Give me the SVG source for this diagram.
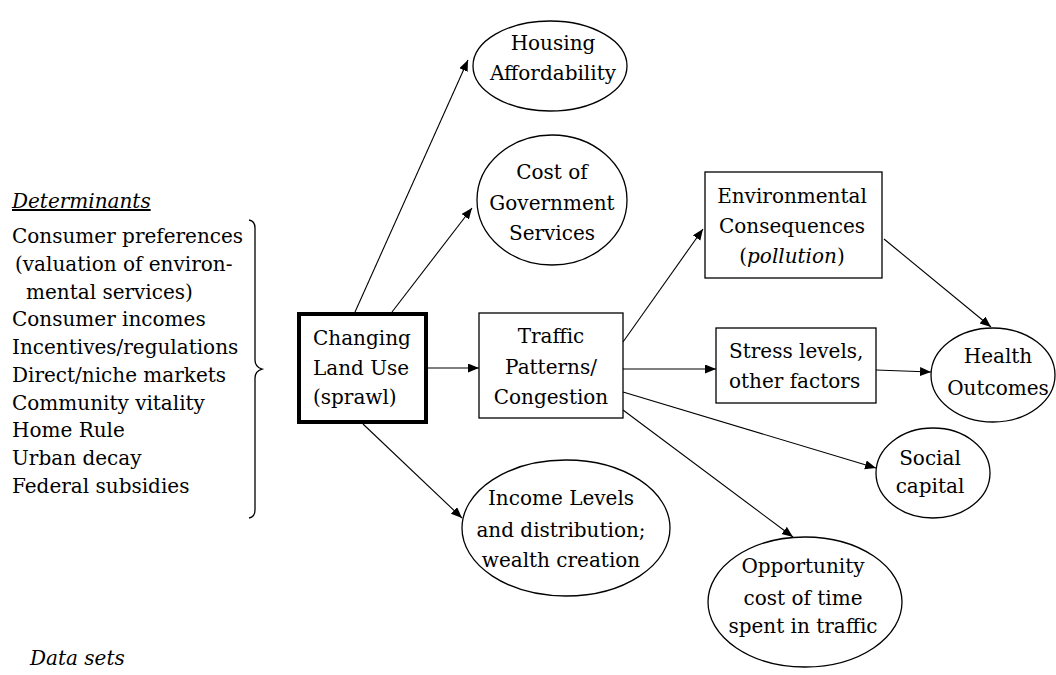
<svg xmlns="http://www.w3.org/2000/svg" width="1056" height="675" viewBox="0 0 1056 675">
<style>
text{font-family:"DejaVu Serif","Liberation Serif",serif;font-size:20px;fill:#000}
.c{text-anchor:middle}
.it{font-style:italic}
.shape{fill:#fff;stroke:#000;stroke-width:1.3}
.thick{fill:#fff;stroke:#000;stroke-width:4}
.edge{stroke:#000;stroke-width:1.1;fill:none;marker-end:url(#ah)}
</style>
<defs>
<marker id="ah" markerUnits="userSpaceOnUse" markerWidth="12" markerHeight="10" refX="11" refY="4.5" orient="auto">
<path d="M0,0 L11,4.5 L0,9 Z" fill="#000"/>
</marker>
</defs>
<rect width="1056" height="675" fill="#fff"/>

<g id="determinants">
<text x="12" y="208" class="it" text-decoration="underline">Determinants</text>
<text x="12" y="243">Consumer preferences</text>
<text x="15" y="271">(valuation of environ-</text>
<text x="26" y="299">mental services)</text>
<text x="12" y="326">Consumer incomes</text>
<text x="12" y="354">Incentives/regulations</text>
<text x="12" y="382">Direct/niche markets</text>
<text x="12" y="410">Community vitality</text>
<text x="12" y="437">Home Rule</text>
<text x="12" y="465">Urban decay</text>
<text x="12" y="493">Federal subsidies</text>
<path d="M249,220 Q255,221 255,228 L255,360 Q255,367 262,369 Q255,371 255,378 L255,510 Q255,517 249,518" fill="none" stroke="#000" stroke-width="1.3"/>
</g>

<g id="datasets">
<text x="30" y="665" class="it">Data sets</text>
</g>

<g id="connectors">
<line class="edge" x1="355" y1="312" x2="468" y2="60"/>
<line class="edge" x1="392" y1="312" x2="472" y2="208"/>
<line class="edge" x1="426" y1="368" x2="479" y2="368"/>
<line class="edge" x1="363" y1="424" x2="462" y2="518"/>
<line class="edge" x1="623" y1="342" x2="703" y2="229"/>
<line class="edge" x1="623" y1="369" x2="716" y2="369"/>
<line class="edge" x1="623" y1="392" x2="876" y2="468"/>
<line class="edge" x1="623" y1="410" x2="793" y2="537"/>
<line class="edge" x1="884" y1="239" x2="991" y2="327"/>
<line class="edge" x1="876" y1="370" x2="931" y2="372"/>
</g>

<g id="housing">
<ellipse class="shape" cx="550" cy="66" rx="77" ry="45"/>
<text x="553" y="50" class="c">Housing</text>
<text x="553" y="80" class="c">Affordability</text>
</g>

<g id="cost">
<ellipse class="shape" cx="552" cy="200" rx="75" ry="65"/>
<text x="552" y="179" class="c">Cost of</text>
<text x="552" y="210" class="c">Government</text>
<text x="552" y="240" class="c">Services</text>
</g>

<g id="landuse">
<rect class="thick" x="299" y="314" width="127" height="108"/>
<text x="313" y="345">Changing</text>
<text x="313" y="375">Land Use</text>
<text x="313" y="404">(sprawl)</text>
</g>

<g id="traffic">
<rect class="shape" x="479" y="313" width="144" height="105"/>
<text x="551" y="343" class="c">Traffic</text>
<text x="551" y="374" class="c">Patterns/</text>
<text x="551" y="404" class="c">Congestion</text>
</g>

<g id="income">
<ellipse class="shape" cx="566" cy="528" rx="104" ry="68"/>
<text x="561" y="505" class="c">Income Levels</text>
<text x="561" y="537" class="c">and distribution;</text>
<text x="561" y="567" class="c">wealth creation</text>
</g>

<g id="environment">
<rect class="shape" x="705" y="172" width="177" height="106"/>
<text x="792" y="203" class="c">Environmental</text>
<text x="792" y="233" class="c">Consequences</text>
<text x="792" y="263" class="c">(<tspan class="it">pollution</tspan>)</text>
</g>

<g id="stress">
<rect class="shape" x="716" y="328" width="160" height="75"/>
<text x="729" y="358">Stress levels,</text>
<text x="729" y="388">other factors</text>
</g>

<g id="health">
<ellipse class="shape" cx="993" cy="375" rx="62" ry="47"/>
<text x="998" y="363" class="c">Health</text>
<text x="998" y="395" class="c">Outcomes</text>
</g>

<g id="social">
<ellipse class="shape" cx="933" cy="473" rx="57" ry="45"/>
<text x="930" y="465" class="c">Social</text>
<text x="930" y="493" class="c">capital</text>
</g>

<g id="opportunity">
<ellipse class="shape" cx="805" cy="602" rx="97" ry="65"/>
<text x="803" y="573" class="c">Opportunity</text>
<text x="803" y="605" class="c">cost of time</text>
<text x="803" y="633" class="c">spent in traffic</text>
</g>
</svg>
